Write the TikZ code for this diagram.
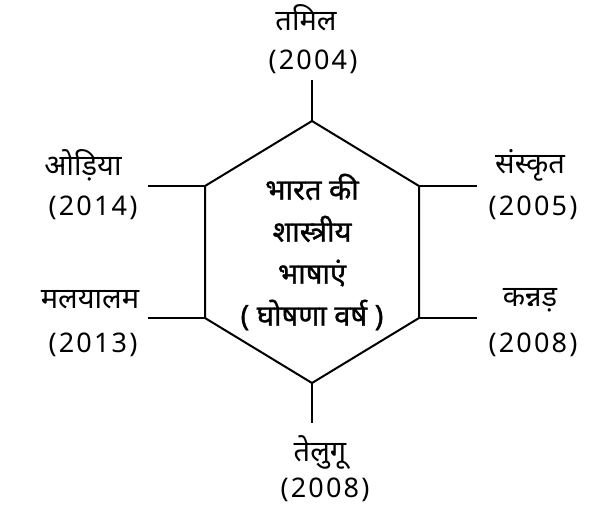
\documentclass[tikz,border=0pt]{standalone}
\usepackage{fontspec}
\setmainfont{Noto Sans}[Script=Devanagari]
\newfontfamily\yearfont{Noto Sans}[LetterSpace=8]
\newfontfamily\titlefont{Noto Sans}[Script=Devanagari, FakeBold=1.2]
\begin{document}
\begin{tikzpicture}
	[
	x=1pt, y=-1pt,
	align=center,
	lang/.style={font=\fontsize{29}{34}\selectfont},
	year/.style={font=\yearfont\fontsize{27}{32}\selectfont},
	edge/.style={line width=2pt},
	]
		\useasboundingbox (0,0) rectangle (609,517);

		% hexagon corners
		\coordinate (t)  at (312,121);
		\coordinate (tr) at (419,186);
		\coordinate (br) at (419,318);
		\coordinate (b)  at (312,383);
		\coordinate (bl) at (205,318);
		\coordinate (tl) at (205,186);
		\draw[edge] (t) -- (tr) -- (br) -- (b) -- (bl) -- (tl) -- cycle;

		% free ends of the spokes
		\coordinate (te)  at (312,80);
		\coordinate (tre) at (477,186);
		\coordinate (bre) at (477,318);
		\coordinate (be)  at (312,423);
		\coordinate (ble) at (148,318);
		\coordinate (tle) at (148,186);
		\foreach \from/\to in {t/te,tr/tre,br/bre,b/be,bl/ble,tl/tle} \draw[edge] (\from) -- (\to);

		% centre
		\node[font=\titlefont\fontsize{29}{42}\selectfont] (title) at (312,252) {भारत की\\शास्त्रीय\\भाषाएं\\( घोषणा वर्ष )};

		% top
		\node[lang] (tn) at (306,18) {तमिल};
		\node[year] (ty) at (313,62) {(2004)};

		% upper right
		\node[lang] (rn) at (530,165) {संस्कृत};
		\node[year] (ry) at (533,208) {(2005)};

		% lower right
		\node[lang] (kn) at (530,300) {कन्नड़};
		\node[year] (ky) at (533,345) {(2008)};

		% bottom
		\node[lang] (bn) at (320,452) {तेलुगू};
		\node[year] (by) at (325,490) {(2008)};

		% lower left
		\node[lang] (mn) at (90,300) {मलयालम};
		\node[year] (my) at (93,345) {(2013)};

		% upper left
		\node[lang] (on) at (83,165) {ओड़िया};
		\node[year] (oy) at (93,208) {(2014)};

	\end{tikzpicture}
\end{document}
